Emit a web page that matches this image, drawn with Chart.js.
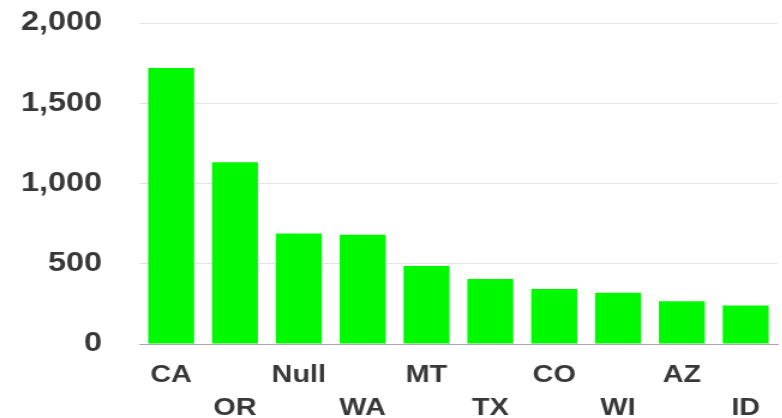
<!DOCTYPE html>
<html>
<head>
<meta charset="utf-8">
<script src="https://cdn.jsdelivr.net/npm/chart.js@4"></script>
<style>
  html, body { margin: 0; padding: 0; background: #ffffff; overflow: hidden; }
  #wrap { width: 652px; height: 418px; transform: scaleX(1.2); transform-origin: 0 0; }
  #chart { display: block; }
</style>
</head>
<body>
<div id="wrap"><canvas id="chart" width="652" height="418"></canvas></div>
<script>
// Record counts by state
const states = ['CA', 'OR', 'Null', 'WA', 'MT', 'TX', 'CO', 'WI', 'AZ', 'ID'];
const counts = [1720, 1132, 688, 680, 486, 405, 343, 320, 266, 240];
const yTicks = [0, 500, 1000, 1500, 2000];

const textColor = '#383838';
const fontFamily = '"Liberation Sans", Arial, Helvetica, sans-serif';

new Chart(document.getElementById('chart'), {
  type: 'bar',
  data: {
    labels: states,
    datasets: [{
      data: counts,
      backgroundColor: '#00f800',
      borderWidth: 0
    }]
  },
  options: {
    responsive: false,
    animation: false,
    devicePixelRatio: 1,
    layout: { padding: { top: 23, right: 4, bottom: 0, left: 0 } },
    plugins: { legend: { display: false }, tooltip: { enabled: false } },
    scales: {
      x: {
        grid: { display: false, drawTicks: false },
        border: { display: true, color: '#a8a8a8', width: 1 },
        ticks: {
          color: textColor,
          font: { family: fontFamily, size: 24, weight: 'bold', lineHeight: 1.375 },
          padding: 15,
          maxRotation: 0,
          autoSkip: false,
          // alternate labels between two rows
          callback: (v, i) => (i % 2 === 0 ? [states[i], ''] : ['', states[i]])
        },
        afterFit: (scale) => { scale.height = 74; }
      },
      y: {
        min: yTicks[0],
        max: yTicks[yTicks.length - 1],
        afterBuildTicks: (scale) => { scale.ticks = yTicks.map(v => ({ value: v })); },
        grid: { color: '#e4e4e4', lineWidth: 1, drawTicks: false },
        border: { display: false },
        ticks: {
          color: textColor,
          font: { family: fontFamily, size: 27, weight: 'bold' },
          padding: 31,
          callback: (v) => Number(v).toLocaleString('en-US')
        },
        afterFit: (scale) => {
          scale.width = 116;
          scale.paddingTop = 0;
          scale.paddingBottom = 0;
        }
      }
    }
  }
});
</script>
</body>
</html>
